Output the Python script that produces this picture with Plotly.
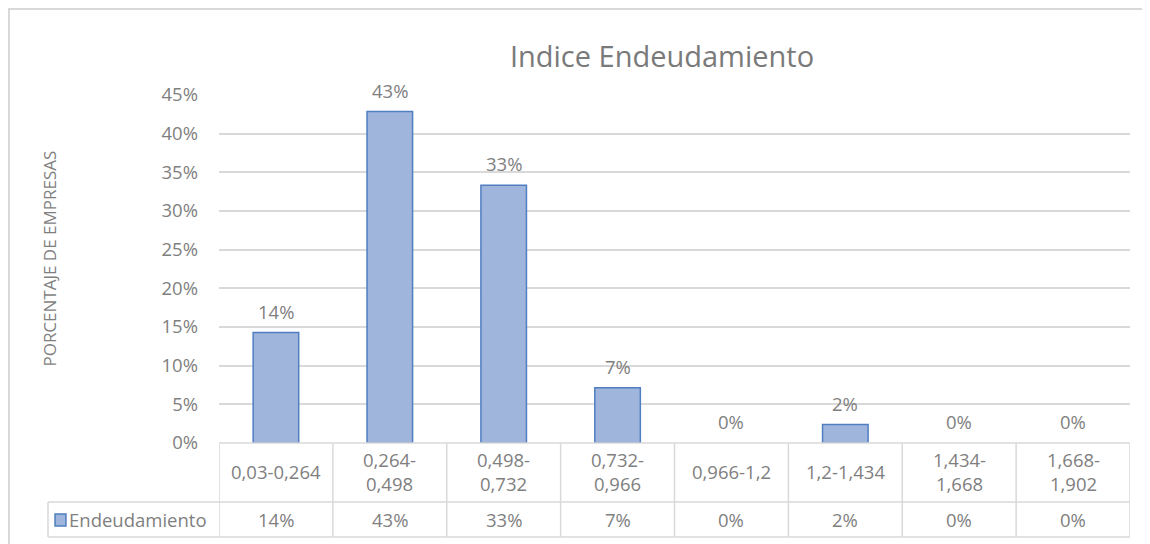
import plotly.graph_objects as go

categories = ["0,03-0,264", "0,264-<br>0,498", "0,498-<br>0,732", "0,732-<br>0,966",
              "0,966-1,2", "1,2-1,434", "1,434-<br>1,668", "1,668-<br>1,902"]
values = [6/42, 18/42, 14/42, 3/42, 0.0, 1/42, 0.0, 0.0]
series_name = "Endeudamiento"
y_ticks = [0, 0.05, 0.10, 0.15, 0.20, 0.25, 0.30, 0.35, 0.40, 0.45]

FONT = "Open Sans"
FS = 18.5
GRAY = "#7f7f7f"
GRID = "#d9d9d9"
BAR_FILL = "#a0b5db"
BAR_LINE = "#4f7fc1"

x_idx = list(range(len(categories)))
fig = go.Figure()
fig.add_trace(go.Bar(
    x=x_idx, y=values, name=series_name, width=0.4,
    marker=dict(color=BAR_FILL,
                line=dict(color=BAR_LINE, width=[1.5 if v > 0 else 0 for v in values])),
    showlegend=False,
))

annotations = []
# data labels
for i, v in enumerate(values):
    annotations.append(dict(x=i, y=v, xref="x", yref="y", text=f"{round(v*100)}%",
                            showarrow=False, yanchor="bottom", yshift=7,
                            font=dict(family=FONT, size=FS, color=GRAY)))
# data table text
for i, c in enumerate(categories):
    annotations.append(dict(x=i, y=-0.0833, xref="x", yref="paper", text=c,
                            showarrow=False, yanchor="middle",
                            font=dict(family=FONT, size=FS, color=GRAY)))
    annotations.append(dict(x=i, y=-0.221, xref="x", yref="paper", text=f"{round(values[i]*100)}%",
                            showarrow=False, yanchor="middle",
                            font=dict(family=FONT, size=FS, color=GRAY)))
# legend text in table
annotations.append(dict(x=-0.1665, y=-0.221, xref="paper", yref="paper", text=series_name,
                        showarrow=False, xanchor="left", yanchor="middle",
                        font=dict(family=FONT, size=FS, color=GRAY)))
# y axis title
annotations.append(dict(x=-0.1855, y=0.53, xref="paper", yref="paper", text="PORCENTAJE DE EMPRESAS",
                        textangle=-90, showarrow=False, xanchor="center", yanchor="middle",
                        font=dict(family=FONT, size=17, color=GRAY)))

shapes = []
line = dict(color=GRID, width=1.5)
# horizontal table lines
shapes.append(dict(type="line", xref="x", yref="paper", x0=-0.5, x1=7.5, y0=0, y1=0, line=line))
shapes.append(dict(type="line", xref="paper", yref="paper", x0=-0.1877, x1=1, y0=-0.1695, y1=-0.1695, line=line))
shapes.append(dict(type="line", xref="paper", yref="paper", x0=-0.1877, x1=1, y0=-0.270, y1=-0.270, line=line))
# vertical lines
for k in range(len(categories) + 1):
    shapes.append(dict(type="line", xref="x", yref="paper", x0=k - 0.5, x1=k - 0.5, y0=0, y1=-0.270, line=line))
shapes.append(dict(type="line", xref="paper", yref="paper", x0=-0.1877, x1=-0.1877, y0=-0.1695, y1=-0.270, line=line))
# legend key
shapes.append(dict(type="rect", xref="paper", yref="paper", x0=-0.180, x1=-0.168, y0=-0.2385, y1=-0.204,
                   fillcolor=BAR_FILL, line=dict(color=BAR_LINE, width=1.5)))
# outer chart border
shapes.append(dict(type="rect", xref="paper", yref="paper", x0=-0.2305, x1=1.05, y0=-0.35, y1=1.247,
                   line=dict(color="#d9d9d9", width=2), layer="below"))

fig.update_layout(
    width=1142, height=536,
    margin=dict(l=211, r=20, t=87, b=101),
    paper_bgcolor="white", plot_bgcolor="white",
    title=dict(text="Indice Endeudamiento", x=0.5727, xanchor="center", y=0.9086, yanchor="middle",
               font=dict(family=FONT, size=29, color="#7a7a7a")),
    xaxis=dict(range=[-0.5, 7.5], showticklabels=False, showgrid=False, zeroline=False,
               showline=False, ticks=""),
    yaxis=dict(range=[0, 0.45], tickvals=y_ticks, tickformat=".0%", showgrid=True,
               gridcolor=GRID, gridwidth=1.5, zeroline=False, showline=False, ticks="",
               ticklabelstandoff=20,
               tickfont=dict(family=FONT, size=FS, color=GRAY)),
    showlegend=False,
    annotations=annotations,
    shapes=shapes,
)

fig.write_html("out.html")
